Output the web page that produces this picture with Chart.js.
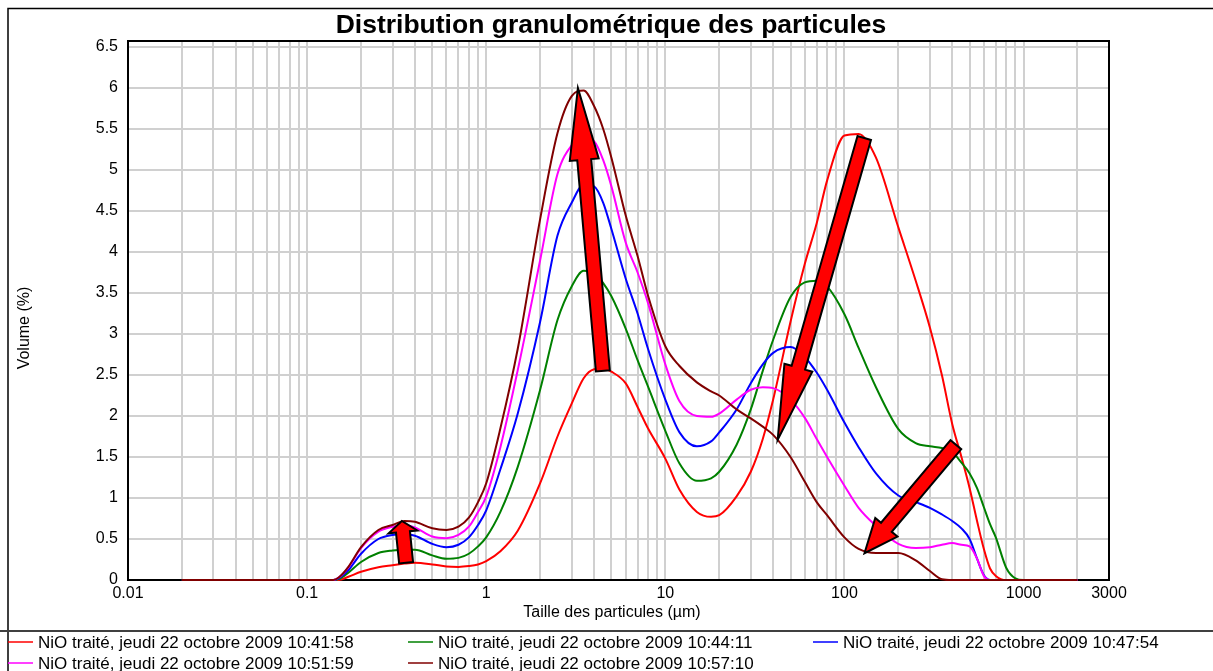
<!DOCTYPE html>
<html>
<head>
<meta charset="utf-8">
<script src="https://cdn.jsdelivr.net/npm/chart.js@4.4.0/dist/chart.umd.min.js"></script>
<style>
  html, body { margin: 0; padding: 0; background: #fff; }
  #wrap { width: 1213px; height: 671px; }
</style>
</head>
<body>
<div id="wrap"><canvas id="chart" width="1213" height="671"></canvas></div>
<script>
// particle size, µm
const sizes = [0.02, 0.14, 0.15, 0.17, 0.2, 0.25, 0.3, 0.35, 0.4, 0.5, 0.6, 0.7, 0.8, 0.9, 1,
  1.2, 1.5, 2, 2.5, 3, 3.5, 4, 4.5, 5, 6, 7, 8, 10, 12, 15, 18, 20, 25, 30, 35, 40,
  50, 60, 70, 80, 100, 120, 150, 200, 250, 300, 350, 400, 450, 500, 550, 600, 650,
  700, 800, 900, 1000, 2000];

// volume %, one array per measurement
const run104158 = [0, 0, 0, 0.04, 0.10, 0.155, 0.18, 0.20, 0.21, 0.19, 0.165, 0.16, 0.17, 0.19, 0.23,
  0.35, 0.60, 1.18, 1.75, 2.15, 2.46, 2.57, 2.58, 2.54, 2.40, 2.11, 1.85, 1.48, 1.10, 0.83, 0.77, 0.79, 1.02, 1.32, 1.72, 2.20,
  3.15, 3.85, 4.35, 4.87, 5.42, 5.44, 5.15, 4.30, 3.65, 3.08, 2.50, 1.90, 1.50, 1.12, 0.72, 0.38, 0.14,
  0.05, 0, 0, 0, 0];
const run104411 = [0, 0, 0.01, 0.09, 0.22, 0.33, 0.36, 0.37, 0.37, 0.30, 0.26, 0.27, 0.32, 0.41, 0.52,
  0.83, 1.38, 2.32, 3.17, 3.58, 3.77, 3.75, 3.62, 3.46, 3.07, 2.68, 2.36, 1.82, 1.42, 1.21, 1.24, 1.32, 1.65, 2.08, 2.55, 2.93,
  3.45, 3.63, 3.65, 3.58, 3.24, 2.83, 2.35, 1.84, 1.67, 1.63, 1.61, 1.56, 1.43, 1.30, 1.12, 0.89, 0.68,
  0.52, 0.15, 0.02, 0, 0];
const run104754 = [0, 0, 0.02, 0.12, 0.32, 0.50, 0.55, 0.56, 0.54, 0.44, 0.40, 0.43, 0.52, 0.67, 0.85,
  1.35, 2.03, 3.15, 4.20, 4.60, 4.82, 4.80, 4.60, 4.28, 3.68, 3.25, 2.82, 2.20, 1.80, 1.63, 1.69, 1.80, 2.08, 2.40, 2.63, 2.77,
  2.84, 2.72, 2.53, 2.32, 1.92, 1.62, 1.30, 1.03, 0.95, 0.88, 0.80, 0.72, 0.63, 0.50, 0.26, 0.06, 0,
  0, 0, 0, 0, 0];
const run105159 = [0, 0, 0.03, 0.155, 0.39, 0.59, 0.65, 0.67, 0.64, 0.53, 0.51, 0.55, 0.65, 0.83, 1.02,
  1.62, 2.56, 3.90, 4.95, 5.30, 5.39, 5.35, 5.12, 4.80, 4.12, 3.75, 3.38, 2.63, 2.18, 2.00, 1.99, 2.03, 2.20, 2.32, 2.35, 2.34,
  2.20, 1.98, 1.72, 1.50, 1.15, 0.88, 0.66, 0.44, 0.39, 0.40, 0.43, 0.45, 0.43, 0.41, 0.26, 0.05, 0,
  0, 0, 0, 0, 0];
const run105710 = [0, 0, 0.03, 0.16, 0.40, 0.61, 0.67, 0.72, 0.71, 0.63, 0.61, 0.65, 0.76, 0.95, 1.18,
  1.85, 2.82, 4.40, 5.45, 5.90, 5.97, 5.78, 5.50, 5.15, 4.45, 3.95, 3.47, 2.85, 2.61, 2.41, 2.30, 2.25, 2.08, 1.97, 1.87, 1.77,
  1.50, 1.20, 0.95, 0.79, 0.52, 0.38, 0.33, 0.33, 0.24, 0.11, 0.01, 0, 0, 0, 0, 0, 0,
  0, 0, 0, 0, 0];

const seriesLabels = [
  'NiO traité, jeudi 22 octobre 2009 10:41:58',
  'NiO traité, jeudi 22 octobre 2009 10:44:11',
  'NiO traité, jeudi 22 octobre 2009 10:47:54',
  'NiO traité, jeudi 22 octobre 2009 10:51:59',
  'NiO traité, jeudi 22 octobre 2009 10:57:10'
];
const seriesValues = [run104158, run104411, run104754, run105159, run105710];
const seriesColors = ['#ff0000', '#008000', '#0000ff', '#ff00ff', '#800000'];

const xTickLabels = [0.01, 0.1, 1, 10, 100, 1000, 3000];
const yTickLabels = [0, 0.5, 1, 1.5, 2, 2.5, 3, 3.5, 4, 4.5, 5, 5.5, 6, 6.5];

// red arrows, in data units (µm, %)
const arrows = [
  { from: [0.357, 0.21], to: [0.338, 0.72], head: 11 },
  { from: [4.48, 2.55], to: [3.25, 6.0], head: 72 },
  { from: [129, 5.39], to: [42.4, 1.71], head: 75 },
  { from: [419, 1.65], to: [129.4, 0.326], head: 34 }
];

const FONT = '"Liberation Sans", Arial, sans-serif';
Chart.defaults.font.family = FONT;
Chart.defaults.color = '#000';

// log grid: 1..9 in every decade, plus the 3000 edge
const xGrid = [];
[0.01, 0.1, 1, 10, 100, 1000].forEach(d => {
  for (let k = 1; k <= 9; k++) {
    if (k * d < 3000) xGrid.push(k === 1 ? d : k * d);
  }
});
xGrid.push(3000);

function drawArrow(ctx, x0, y0, x1, y1, headLen) {
  const dx = x1 - x0, dy = y1 - y0;
  const len = Math.hypot(dx, dy);
  const ux = dx / len, uy = dy / len;
  const px = -uy, py = ux;
  const sw = 7, hw = 14.5;
  const bx = x1 - ux * headLen, by = y1 - uy * headLen;
  ctx.beginPath();
  ctx.moveTo(x0 + px * sw, y0 + py * sw);
  ctx.lineTo(bx + px * sw, by + py * sw);
  ctx.lineTo(bx + px * hw, by + py * hw);
  ctx.lineTo(x1, y1);
  ctx.lineTo(bx - px * hw, by - py * hw);
  ctx.lineTo(bx - px * sw, by - py * sw);
  ctx.lineTo(x0 - px * sw, y0 - py * sw);
  ctx.closePath();
  ctx.fillStyle = '#ff0000';
  ctx.fill();
  ctx.lineWidth = 2;
  ctx.lineJoin = 'miter';
  ctx.strokeStyle = '#000';
  ctx.stroke();
}

const framePlugin = {
  id: 'frame',
  beforeDatasetsDraw(chart) {
    const { ctx, chartArea: a } = chart;
    ctx.save();
    ctx.strokeStyle = '#000';
    ctx.lineWidth = 2;
    ctx.strokeRect(a.left, a.top, a.right - a.left, a.bottom - a.top);
    ctx.restore();
  },
  afterDatasetsDraw(chart) {
    const { ctx, scales } = chart;
    ctx.save();
    arrows.forEach(ar => {
      drawArrow(ctx,
        scales.x.getPixelForValue(ar.from[0]), scales.y.getPixelForValue(ar.from[1]),
        scales.x.getPixelForValue(ar.to[0]), scales.y.getPixelForValue(ar.to[1]),
        ar.head);
    });
    ctx.restore();
  },
  afterDraw(chart) {
    const { ctx } = chart;
    ctx.save();
    // outer frame and legend separator
    ctx.strokeStyle = '#000';
    ctx.lineWidth = 1.5;
    ctx.beginPath();
    ctx.moveTo(8, 671); ctx.lineTo(8, 8.5); ctx.lineTo(1213, 8.5);
    ctx.stroke();
    ctx.strokeStyle = '#404040';
    ctx.lineWidth = 2;
    ctx.beginPath();
    ctx.moveTo(0, 631); ctx.lineTo(1213, 631);
    ctx.stroke();

    ctx.fillStyle = '#000';
    ctx.textAlign = 'center';
    ctx.textBaseline = 'middle';
    ctx.font = 'bold 26.5px ' + FONT;
    ctx.fillText('Distribution granulométrique des particules', 611, 26);
    ctx.font = '16px ' + FONT;
    ctx.fillText('Taille des particules (µm)', 612, 613);
    ctx.save();
    ctx.translate(25, 328);
    ctx.rotate(-Math.PI / 2);
    ctx.fillText('Volume (%)', 0, 0);
    ctx.restore();

    // legend, three columns
    const colX = [8, 408, 813];
    const rowY = [642, 663];
    ctx.textAlign = 'left';
    ctx.font = '17px ' + FONT;
    seriesLabels.forEach((lab, i) => {
      const x = colX[i % 3], y = rowY[Math.floor(i / 3)];
      ctx.strokeStyle = seriesColors[i];
      ctx.lineWidth = 1.5;
      ctx.beginPath();
      ctx.moveTo(x, y); ctx.lineTo(x + 25, y);
      ctx.stroke();
      ctx.fillStyle = '#000';
      ctx.fillText(lab, x + 30, y + 1);
    });
    ctx.restore();
  }
};

const datasets = seriesValues.map((vals, i) => ({
  label: seriesLabels[i],
  data: sizes.map((s, j) => ({ x: s, y: vals[j] })),
  borderColor: seriesColors[i],
  backgroundColor: seriesColors[i],
  borderWidth: 2,
  pointRadius: 0,
  cubicInterpolationMode: 'monotone',
  clip: false,
  order: seriesValues.length - i
}));

const ctx = document.getElementById('chart').getContext('2d');
new Chart(ctx, {
  type: 'line',
  data: { datasets: datasets },
  options: {
    responsive: false,
    animation: false,
    layout: { padding: { top: 41, right: 104, left: 0, bottom: 0 } },
    plugins: {
      legend: { display: false },
      title: { display: false },
      tooltip: { enabled: false }
    },
    scales: {
      x: {
        type: 'logarithmic',
        min: 0.01,
        max: 3000,
        afterBuildTicks: s => { s.ticks = xGrid.map(v => ({ value: v })); },
        afterFit: s => { s.height = 91; },
        ticks: {
          autoSkip: false,
          maxRotation: 0,
          padding: 4,
          font: { size: 16 },
          color: '#000',
          callback: v => (xTickLabels.includes(v) ? String(v) : '')
        },
        grid: { color: '#d0d0d0', lineWidth: 2, drawTicks: false },
        border: { display: false }
      },
      y: {
        min: 0,
        max: 6.573,
        afterBuildTicks: s => { s.ticks = yTickLabels.map(v => ({ value: v })); },
        afterFit: s => { s.width = 128; },
        ticks: {
          padding: 10,
          font: { size: 16 },
          color: '#000',
          callback: v => String(v)
        },
        grid: { color: '#d0d0d0', lineWidth: 2, drawTicks: false },
        border: { display: false }
      }
    }
  },
  plugins: [framePlugin]
});
</script>
</body>
</html>
